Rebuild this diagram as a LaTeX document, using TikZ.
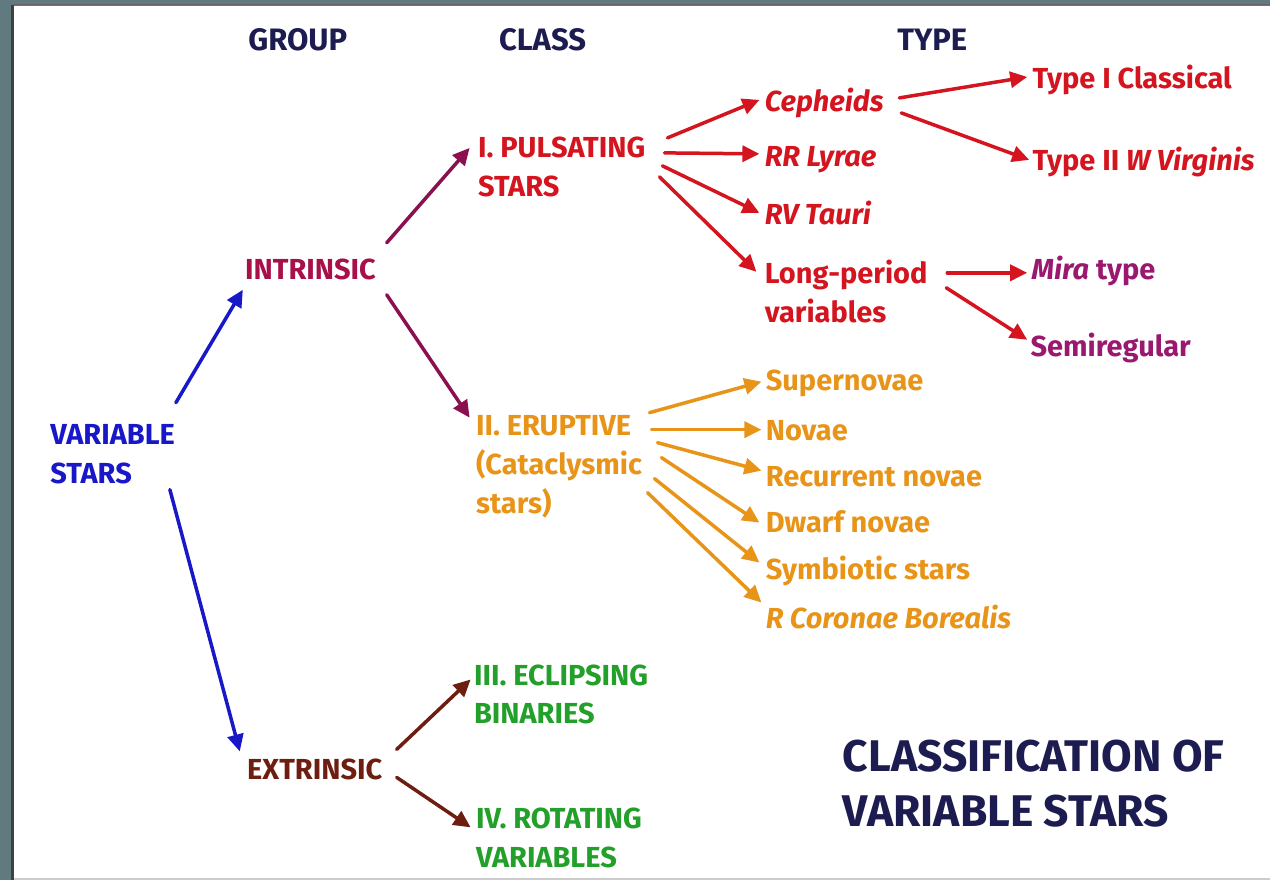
\documentclass[tikz,border=0pt]{standalone}
\usepackage{fontspec}
\setmainfont{Fira Sans}
\usepackage{xcolor}
\usetikzlibrary{calc}
\usetikzlibrary{arrows.meta}

\definecolor{framegray}{RGB}{96,122,128}
\definecolor{navy}{RGB}{28,28,80}
\definecolor{vsblue}{RGB}{24,24,200}
\definecolor{intrred}{RGB}{168,16,74}
\definecolor{intrarrow}{RGB}{138,16,80}
\definecolor{pulsred}{RGB}{212,20,30}
\definecolor{erupor}{RGB}{232,148,24}
\definecolor{eclgreen}{RGB}{34,160,42}
\definecolor{extrbrown}{RGB}{110,30,16}
\definecolor{miraviolet}{RGB}{154,24,112}

\begin{document}
\begin{tikzpicture}[x=0.5pt,y=-0.5pt,
    lbl/.style={anchor=west,inner sep=0pt,align=left,font=\fontsize{14.5}{19.5}\selectfont\bfseries},
    head/.style={inner sep=0pt,text=navy,font=\fontsize{15.5}{19}\selectfont\bfseries},
    arr/.style={line width=1.75pt,line cap=round,-{Triangle[length=8.5pt,width=8pt]}}]
    %RAHMEN
    \fill[framegray] (0,0) rectangle (1271,881);
    \fill[white] (14,6) rectangle (1271,879);
    \draw[black!75,line width=1.5pt] (13,5) -- (13,881);
    \draw[black!60,line width=0.5pt] (13,5) -- (1271,5);
    \draw[black!20,line width=1pt] (14,880) -- (1271,880);
    \useasboundingbox (0,0) rectangle (1271,881);
    %KOPF
    \node[head] (group) at (298,40) {GROUP};
    \node[head] (class) at (543,40) {CLASS};
    \node[head] (type) at (933,40) {TYPE};
    %GRUPPE
    \node[lbl,text=vsblue] (vs) at (50,455) {VARIABLE\\STARS};
    \node[lbl,text=intrred] (intr) at (245,270) {INTRINSIC};
    \node[lbl,text=extrbrown] (extr) at (247,770) {EXTRINSIC};
    %KLASSE
    \node[lbl,text=pulsred] (puls) at (478,167.5) {I. PULSATING\\STARS};
    \node[lbl,text=erupor] (erup) at (476,467.5) {II. ERUPTIVE\\(Cataclysmic\\stars)};
    \node[lbl,text=eclgreen] (ecl) at (474,695) {III. ECLIPSING\\BINARIES};
    \node[lbl,text=eclgreen] (rot) at (476,839) {IV. ROTATING\\VARIABLES};
    %TYP PULSIEREND
    \node[lbl,text=pulsred] (ceph) at (765,103) {\itshape Cepheids};
    \node[lbl,text=pulsred] (rr) at (765,160) {\itshape RR Lyrae};
    \node[lbl,text=pulsred] (rv) at (765,213) {\itshape RV Tauri};
    \node[lbl,text=pulsred] (lp) at (765,291.5) {Long-period\\variables};
    \node[lbl,text=pulsred] (t1) at (1033,80) {Type I Classical};
    \node[lbl,text=pulsred] (t2) at (1033,162) {Type II \textit{W Virginis}};
    \node[lbl,text=miraviolet] (mira) at (1032,271) {\textit{Mira} type};
    \node[lbl,text=miraviolet] (semi) at (1031,348) {Semiregular};
    %TYP ERUPTIV
    \node[lbl,text=erupor] (sn) at (766,384) {Supernovae};
    \node[lbl,text=erupor] (nov) at (766,431) {Novae};
    \node[lbl,text=erupor] (rec) at (766,477) {Recurrent novae};
    \node[lbl,text=erupor] (dw) at (766,522) {Dwarf novae};
    \node[lbl,text=erupor] (sym) at (766,571) {Symbiotic stars};
    \node[lbl,text=erupor] (rcb) at (766,617) {\itshape R Coronae Borealis};
    %TITEL
    \node[lbl,text=navy,font=\fontsize{22.2}{27.5}\selectfont\bfseries] (title) at (843,784.5) {CLASSIFICATION OF\\VARIABLE STARS};
    %PFEILE GRUPPE
    \draw[arr,vsblue] ([shift={(126,-52)}]vs.west) -- ([shift={(-2,20)}]intr.west);
    \draw[arr,vsblue] ([shift={(120,35)}]vs.west) -- ([shift={(-7,-18)}]extr.west);
    %PFEILE KLASSE
    \draw[arr,intrarrow] ([shift={(142,-27)}]intr.west) -- ([shift={(-8,-19.5)}]puls.west);
    \draw[arr,intrarrow] ([shift={(142,25)}]intr.west) -- ([shift={(-6,-49.5)}]erup.west);
    \draw[arr,extrbrown] ([shift={(150,-20)}]extr.west) -- ([shift={(-3,-15)}]ecl.west);
    \draw[arr,extrbrown] ([shift={(150,8)}]extr.west) -- ([shift={(-5,-11)}]rot.west);
    %PFEILE PULSIEREND
    \draw[arr,pulsred] ([shift={(190,-29.5)}]puls.west) -- ([shift={(-5,-3)}]ceph.west);
    \draw[arr,pulsred] ([shift={(187,-14.5)}]puls.west) -- ([shift={(-5,-6)}]rr.west);
    \draw[arr,pulsred] ([shift={(185,-1.5)}]puls.west) -- ([shift={(-5,0)}]rv.west);
    \draw[arr,pulsred] ([shift={(182,9.5)}]puls.west) -- ([shift={(-8,-19.5)}]lp.west);
    \draw[arr,pulsred] ([shift={(135,-5)}]ceph.west) -- ([shift={(-5,-3)}]t1.west);
    \draw[arr,pulsred] ([shift={(137,10)}]ceph.west) -- ([shift={(-3,-2)}]t2.west);
    \draw[arr,pulsred] ([shift={(183,-18.5)}]lp.west) -- ([shift={(-4,2)}]mira.west);
    \draw[arr,pulsred] ([shift={(182,-3.5)}]lp.west) -- ([shift={(-3,-8)}]semi.west);
    %PFEILE ERUPTIV
    \draw[arr,erupor] ([shift={(174,-54.5)}]erup.west) -- ([shift={(-4,-2)}]sn.west);
    \draw[arr,erupor] ([shift={(176,-37.5)}]erup.west) -- ([shift={(-4,-1)}]nov.west);
    \draw[arr,erupor] ([shift={(182,-24.5)}]erup.west) -- ([shift={(-4,-6)}]rec.west);
    \draw[arr,erupor] ([shift={(186,-9.5)}]erup.west) -- ([shift={(-6,1)}]dw.west);
    \draw[arr,erupor] ([shift={(179,11.5)}]erup.west) -- ([shift={(-6,-8)}]sym.west);
    \draw[arr,erupor] ([shift={(172,25.5)}]erup.west) -- ([shift={(-4,-14)}]rcb.west);
\end{tikzpicture}
\end{document}
